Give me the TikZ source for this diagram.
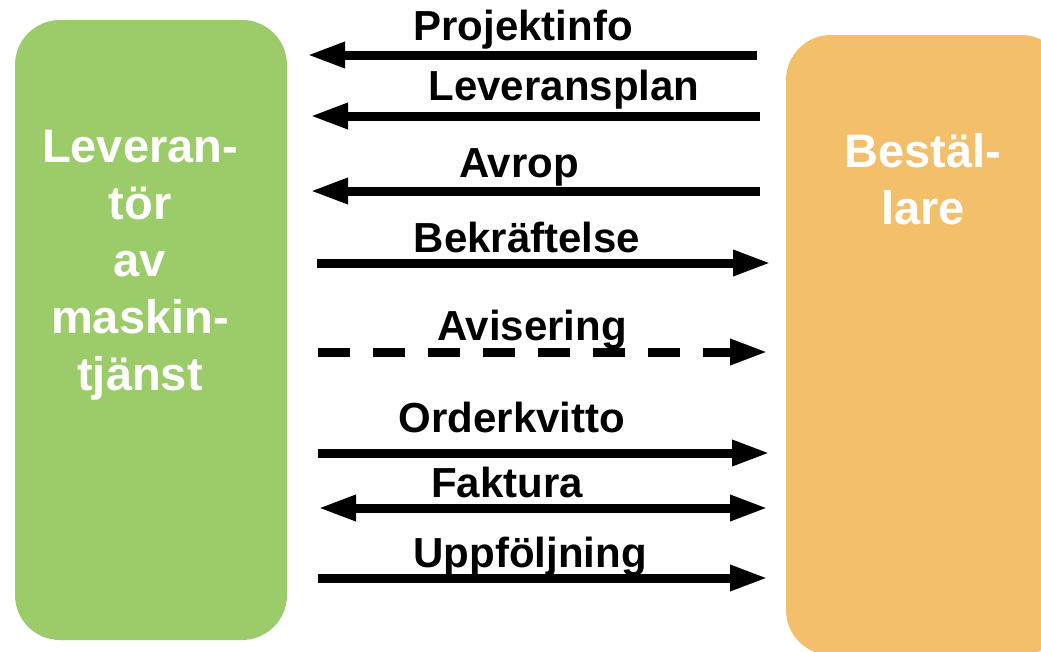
\documentclass[tikz,border=0pt]{standalone}
\usepackage{fontspec}
\setmainfont{Liberation Sans}
\usetikzlibrary{arrows.meta}
\definecolor{suppliergreen}{HTML}{9BCC69}
\definecolor{clientorange}{HTML}{F4BF6A}
\tikzset{
  party/.style={rounded corners=45pt, inner sep=0pt, draw=none},
  partytext/.style={text=white, inner sep=0pt, align=center,
    font=\bfseries\fontsize{47}{57}\selectfont},
  msglabel/.style={anchor=base, inner sep=0pt,
    font=\bfseries\fontsize{42}{50}\selectfont},
  flow/.style={line width=9pt, -{Triangle[length=38pt,width=24pt]}},
  twoway/.style={line width=9pt, {Triangle[length=38pt,width=24pt]}-{Triangle[length=38pt,width=24pt]}},
  notice/.style={flow, dash pattern=on 32pt off 23pt},
}
\begin{document}
\begin{tikzpicture}[x=1pt, y=-1pt]
  \clip (0,0) rectangle (1041,651);

  % the two parties
  \node[party, fill=suppliergreen, minimum width=272pt, minimum height=620pt] (supplier) at (151,330) {};
  \node[party, fill=clientorange, minimum width=280pt, minimum height=620pt] (client) at (926,345) {};
  \node[partytext] (suppliername) at (140,265) {Leveran-\\tör\\av\\maskin-\\tjänst};
  \node[partytext] (clientname) at (923,179) {Bestäl-\\lare};

  % end points of the messages
  \coordinate (a1r) at (757,55);  \coordinate (a1l) at (307,55);
  \coordinate (a2r) at (760,116); \coordinate (a2l) at (310,116);
  \coordinate (a3r) at (760,191); \coordinate (a3l) at (310,191);
  \coordinate (a4l) at (317,263); \coordinate (a4r) at (771,263);
  \coordinate (a5l) at (318,352); \coordinate (a5r) at (768,352);
  \coordinate (a6l) at (318,453); \coordinate (a6r) at (770,453);
  \coordinate (a7l) at (318,508); \coordinate (a7r) at (768,508);
  \coordinate (a8l) at (318,578); \coordinate (a8r) at (768,578);

  % messages from the client
  \draw[flow] (a1r) -- (a1l);
  \draw[flow] (a2r) -- (a2l);
  \draw[flow] (a3r) -- (a3l);
  % messages from the supplier
  \draw[flow] (a4l) -- (a4r);
  \draw[notice] (a5l) -- (a5r);
  \draw[flow] (a6l) -- (a6r);
  \draw[twoway] (a7l) -- (a7r);
  \draw[flow] (a8l) -- (a8r);

  % message names
  \node[msglabel] (l1) at (523,40)  {Projektinfo};
  \node[msglabel] (l2) at (564,100) {Leveransplan};
  \node[msglabel] (l3) at (519,177) {Avrop};
  \node[msglabel] (l4) at (527,252) {Bekräftelse};
  \node[msglabel] (l5) at (532,340) {Avisering};
  \node[msglabel] (l6) at (512,432) {Orderkvitto};
  \node[msglabel] (l7) at (507,497) {Faktura};
  \node[msglabel] (l8) at (530,567) {Uppföljning};
\end{tikzpicture}
\end{document}
